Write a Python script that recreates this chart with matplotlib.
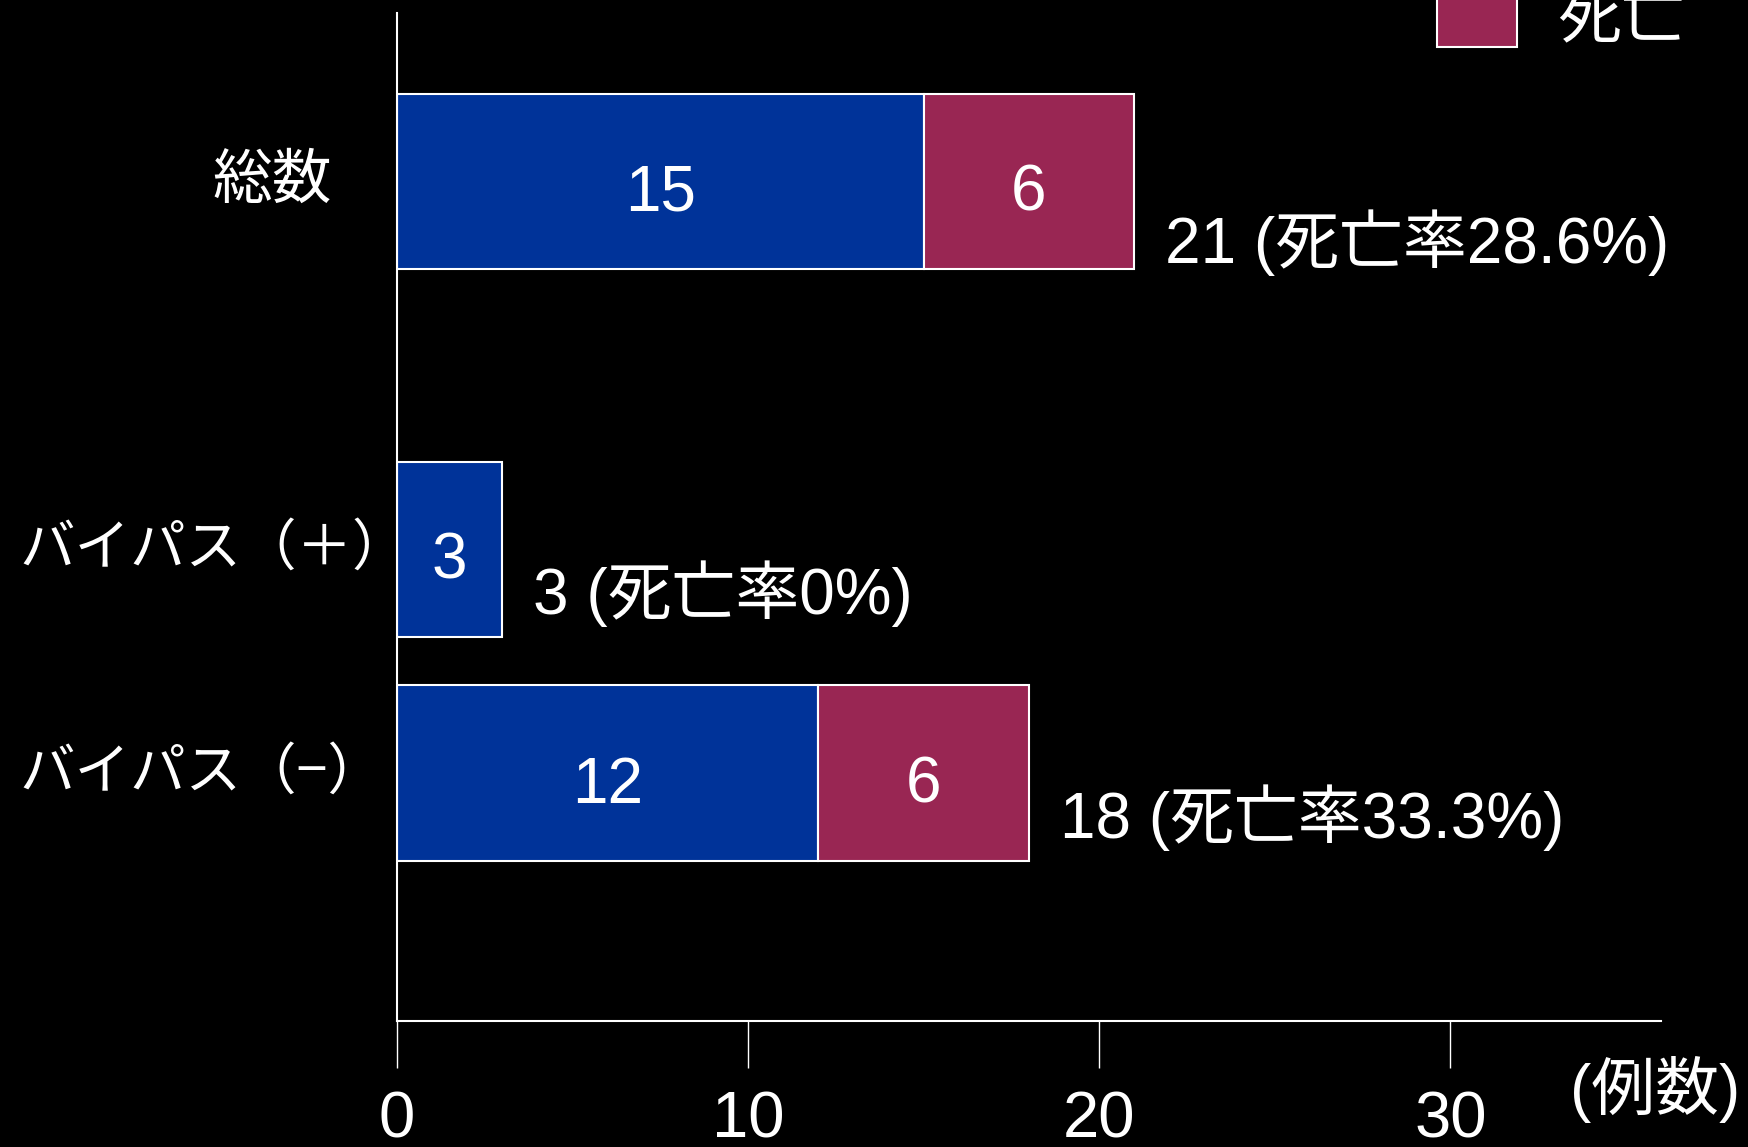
import numpy as np
import matplotlib.pyplot as plt
import matplotlib.transforms as mtransforms
from matplotlib.patches import Rectangle

plt.rcParams['font.family'] = ['Liberation Sans', 'Noto Sans CJK JP']

# data
categories = ['総数', 'バイパス（＋）', 'バイパス（−）']
survived = np.array([15, 3, 12])
deaths = np.array([6, 0, 6])
xticks = [0, 10, 20, 30]

BLUE = '#003399'
RED = '#992653'

# layout
ypos = np.array([0.167, 0.532, 0.754])
bar_h = 0.174
cat_x = [0.1213, 0.0114, 0.0114]
cat_size = [43, 40, 40]
total_dy = [-44, -32, -32]

fig = plt.figure(figsize=(17.48, 11.47), dpi=100, facecolor='black')
ax = fig.add_axes([0.2271, 0.10985, 0.7231, 0.8788])
ax.set_facecolor('black')

ax.barh(ypos, survived, height=bar_h, color=BLUE, edgecolor='white', linewidth=1.5)
has_d = deaths > 0
ax.barh(ypos[has_d], deaths[has_d], left=survived[has_d], height=bar_h,
        color=RED, edgecolor='white', linewidth=1.5)

ax.set_xlim(0, 36)
ax.set_ylim(1, 0)
ax.set_xticks(xticks)
ax.set_yticks([])
ax.tick_params(axis='x', direction='out', length=34, width=1, color='white',
               labelcolor='white', labelsize=47, pad=16)
for s in ['top', 'right']:
    ax.spines[s].set_visible(False)
for s in ['left', 'bottom']:
    ax.spines[s].set_color('white')
    ax.spines[s].set_linewidth(1.5)

# numbers inside the segments
for i, y in enumerate(ypos):
    ax.annotate(str(survived[i]), xy=(survived[i] / 2, y), xytext=(0, -9),
                textcoords='offset points', ha='center', va='center',
                fontsize=46, color='white')
    if deaths[i] > 0:
        ax.annotate(str(deaths[i]), xy=(survived[i] + deaths[i] / 2, y), xytext=(0, -9),
                    textcoords='offset points', ha='center', va='center',
                    fontsize=46, color='white')

# totals with mortality
totals = survived + deaths
for i, y in enumerate(ypos):
    rate = 100 * deaths[i] / totals[i]
    rate_s = f'{rate:.1f}' if deaths[i] else '0'
    ax.annotate(f'{totals[i]} (死亡率{rate_s}%)', xy=(totals[i], y), xytext=(22, total_dy[i]),
                textcoords='offset points', ha='left', va='center',
                fontsize=46, color='white')

# category labels
trans = mtransforms.blended_transform_factory(fig.transFigure, ax.transData)
for i, lab in enumerate(categories):
    ax.text(cat_x[i], ypos[i], lab, transform=trans, ha='left', va='center',
            fontsize=cat_size[i], color='white', family=['Noto Sans CJK JP'])

fig.text(0.947, 0.0497, '(例数)', ha='center', va='center', fontsize=46, color='white')

# legend entry
fig.patches.append(Rectangle((0.8221, 0.959), 0.0458, 0.06, transform=fig.transFigure,
                             facecolor=RED, edgecolor='white', linewidth=1.5))
fig.text(0.8907, 0.967, '死亡', ha='left', va='baseline', fontsize=46, color='white')

fig.savefig('out.png', dpi=100, facecolor='black')
